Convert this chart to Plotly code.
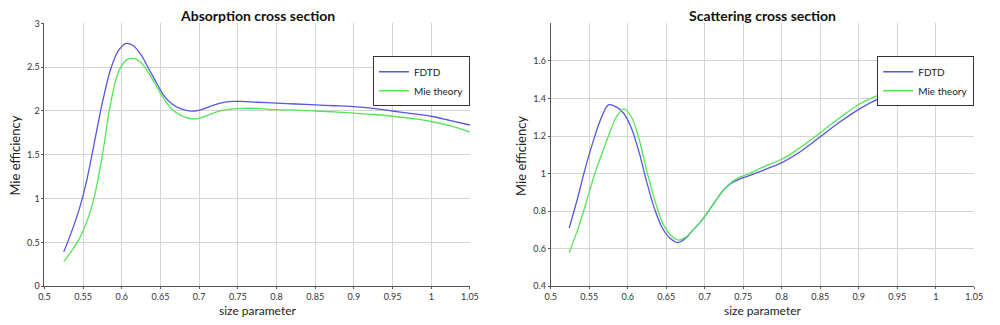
import plotly.graph_objects as go

# ---------------- data ----------------
abs_x_fdtd = [0.525, 0.535, 0.545, 0.555, 0.565, 0.575, 0.585, 0.595, 0.605, 0.615, 0.625,
              0.635, 0.645, 0.655, 0.665, 0.675, 0.685, 0.695, 0.705, 0.715, 0.725, 0.735,
              0.745, 0.755, 0.775, 0.8, 0.825, 0.85, 0.875, 0.9, 0.925, 0.95, 0.975, 1.0,
              1.025, 1.05]
abs_y_fdtd = [0.39, 0.62, 0.88, 1.22, 1.66, 2.10, 2.46, 2.68, 2.77, 2.745, 2.64,
              2.48, 2.32, 2.17, 2.08, 2.03, 2.005, 2.00, 2.02, 2.055, 2.085, 2.105,
              2.11, 2.11, 2.10, 2.09, 2.08, 2.07, 2.06, 2.05, 2.03, 2.00, 1.97, 1.94,
              1.89, 1.84]

abs_x_mie = [0.525, 0.535, 0.545, 0.555, 0.565, 0.575, 0.585, 0.595, 0.605, 0.615, 0.625,
             0.635, 0.645, 0.655, 0.665, 0.675, 0.685, 0.695, 0.705, 0.715, 0.725, 0.735,
             0.745, 0.755, 0.775, 0.8, 0.825, 0.85, 0.875, 0.9, 0.925, 0.95, 0.975, 1.0,
             1.025, 1.05]
abs_y_mie = [0.28, 0.40, 0.54, 0.74, 1.04, 1.50, 2.06, 2.43, 2.575, 2.60, 2.55,
             2.43, 2.28, 2.13, 2.02, 1.955, 1.92, 1.91, 1.93, 1.965, 1.995, 2.015,
             2.025, 2.03, 2.03, 2.015, 2.01, 2.00, 1.99, 1.975, 1.96, 1.94, 1.915, 1.88,
             1.83, 1.76]

sca_x_fdtd = [0.524, 0.535, 0.545, 0.555, 0.565, 0.575, 0.585, 0.595, 0.605, 0.615, 0.625,
              0.635, 0.645, 0.655, 0.665, 0.675, 0.685, 0.695, 0.705, 0.715, 0.725, 0.735,
              0.745, 0.755, 0.775, 0.8, 0.825, 0.85, 0.875, 0.9, 0.925, 0.95, 0.965, 0.985]
sca_y_fdtd = [0.71, 0.87, 1.03, 1.17, 1.29, 1.366, 1.355, 1.32, 1.24, 1.11, 0.95,
              0.81, 0.71, 0.655, 0.632, 0.655, 0.70, 0.745, 0.80, 0.86, 0.915, 0.95,
              0.97, 0.985, 1.016, 1.058, 1.119, 1.196, 1.273, 1.342, 1.397, 1.428, 1.442, 1.452]

sca_x_mie = [0.524, 0.535, 0.545, 0.555, 0.565, 0.575, 0.585, 0.595, 0.605, 0.615, 0.625,
             0.635, 0.645, 0.655, 0.665, 0.675, 0.685, 0.695, 0.705, 0.715, 0.725, 0.735,
             0.745, 0.755, 0.775, 0.8, 0.825, 0.85, 0.875, 0.9, 0.925, 0.95, 0.965, 0.985]
sca_y_mie = [0.58, 0.70, 0.83, 0.97, 1.09, 1.20, 1.30, 1.345, 1.30, 1.18, 1.01,
             0.86, 0.74, 0.675, 0.646, 0.66, 0.70, 0.745, 0.80, 0.86, 0.915, 0.955,
             0.98, 0.995, 1.033, 1.076, 1.141, 1.218, 1.296, 1.368, 1.416, 1.454, 1.463, 1.468]

x_ticks = [0.5, 0.55, 0.6, 0.65, 0.7, 0.75, 0.8, 0.85, 0.9, 0.95, 1.0, 1.05]
x_tick_labels = ["0.5", "0.55", "0.6", "0.65", "0.7", "0.75", "0.8", "0.85", "0.9", "0.95", "1", "1.05"]
abs_y_ticks = [0, 0.5, 1, 1.5, 2, 2.5, 3]
abs_y_tick_labels = ["0", "0.5", "1", "1.5", "2", "2.5", "3"]
sca_y_ticks = [0.4, 0.6, 0.8, 1.0, 1.2, 1.4, 1.6]
sca_y_tick_labels = ["0.4", "0.6", "0.8", "1", "1.2", "1.4", "1.6"]

titles = ["Absorption cross section", "Scattering cross section"]
series_names = ["FDTD", "Mie theory"]

# ---------------- style ----------------
BLUE = "#5656e0"
GREEN = "#55e655"
FONT = "Lato"
W, H = 1000, 325

fig = go.Figure()

line_kw = dict(width=1.3, shape="spline", smoothing=0.9)
fig.add_trace(go.Scatter(x=abs_x_fdtd, y=abs_y_fdtd, name=series_names[0], mode="lines",
                         line=dict(color=BLUE, **line_kw),
                         xaxis="x", yaxis="y", legend="legend"))
fig.add_trace(go.Scatter(x=abs_x_mie, y=abs_y_mie, name=series_names[1], mode="lines",
                         line=dict(color=GREEN, **line_kw),
                         xaxis="x", yaxis="y", legend="legend"))
fig.add_trace(go.Scatter(x=sca_x_fdtd, y=sca_y_fdtd, name=series_names[0], mode="lines",
                         line=dict(color=BLUE, **line_kw),
                         xaxis="x2", yaxis="y2", legend="legend2"))
fig.add_trace(go.Scatter(x=sca_x_mie, y=sca_y_mie, name=series_names[1], mode="lines",
                         line=dict(color=GREEN, **line_kw),
                         xaxis="x2", yaxis="y2", legend="legend2"))

ydom = [1 - 290 / H, 1 - 18 / H]

common_ax = dict(showline=True, linecolor="#555555", linewidth=1, ticks="outside", ticklen=2,
                 tickcolor="#555555", showgrid=True, gridcolor="#d4d4d4", gridwidth=1,
                 zeroline=False, tickfont=dict(family=FONT, size=9, color="#333333"))

legend_kw = dict(xanchor="right", yanchor="top", bgcolor="white", bordercolor="#333333",
                 borderwidth=1, font=dict(family=FONT, size=10, color="#222222"),
                 itemwidth=30, tracegroupgap=0)

fig.update_layout(
    width=W, height=H,
    margin=dict(l=0, r=0, t=0, b=0),
    paper_bgcolor="white", plot_bgcolor="white",
    font=dict(family=FONT, color="#222222"),
    xaxis=dict(domain=[39 / W, 471 / W], range=[0.5, 1.05], tickvals=x_ticks,
               ticktext=x_tick_labels, anchor="y", **common_ax),
    yaxis=dict(domain=ydom, range=[0, 3], tickvals=abs_y_ticks, ticktext=abs_y_tick_labels,
               anchor="x", **common_ax),
    xaxis2=dict(domain=[553 / W, 983 / W], range=[0.5, 1.05], tickvals=x_ticks,
                ticktext=x_tick_labels, anchor="y2", **common_ax),
    yaxis2=dict(domain=ydom, range=[0.4, 1.8], tickvals=sca_y_ticks, ticktext=sca_y_tick_labels,
                anchor="x2", **common_ax),
    legend=dict(x=471 / W, y=1 - 52 / H, **legend_kw),
    legend2=dict(x=983 / W, y=1 - 52 / H, **legend_kw),
    showlegend=True,
)

annotations = []
centers = [(39 + 471) / 2, (553 + 983) / 2]
ylab_x = [9, 523]
for i in range(2):
    annotations.append(dict(text="<b>" + titles[i] + "</b>", x=centers[i] / W, y=1 - 10 / H,
                            xref="paper", yref="paper", showarrow=False,
                            xanchor="center", yanchor="middle",
                            font=dict(family=FONT, size=14, color="#111111")))
    annotations.append(dict(text="size parameter", x=centers[i] / W, y=1 - 315 / H,
                            xref="paper", yref="paper", showarrow=False,
                            xanchor="center", yanchor="middle",
                            font=dict(family=FONT, size=12, color="#222222")))
    annotations.append(dict(text="Mie efficiency", x=ylab_x[i] / W, y=1 - 155 / H,
                            xref="paper", yref="paper", showarrow=False, textangle=-90,
                            xanchor="center", yanchor="middle",
                            font=dict(family=FONT, size=13, color="#222222")))
fig.update_layout(annotations=annotations)

fig.write_html("out.html")
